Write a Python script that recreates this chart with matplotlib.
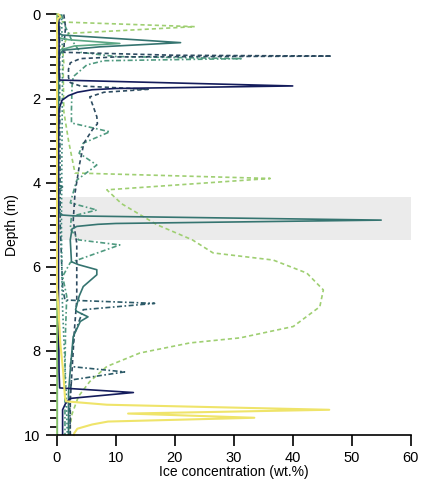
import matplotlib
matplotlib.use("Agg")
import matplotlib.pyplot as plt
from matplotlib.ticker import MultipleLocator

plt.rcParams['font.family'] = ['Liberation Sans', 'DejaVu Sans']

# ---- data (depth in m, ice concentration in wt.%) ----
navy_solid_d = [0, 0.5, 1.0, 1.4, 1.56, 1.70, 1.76, 1.79, 1.85, 1.93, 2.04, 2.25, 3, 5, 7, 8.5, 8.88, 8.99, 9.13, 9.25, 9.4, 10]
navy_solid_v = [0.3, 0.4, 0.4, 0.4, 0.5, 40, 10, 6, 3.5, 2.0, 0.9, 0.4, 0.3, 0.3, 0.3, 0.4, 0.5, 13, 2.3, 1.5, 1.0, 1.0]

teal_solid_d = [0, 0.45, 0.49, 0.67, 0.77, 0.85, 0.93, 1.08, 3, 4.05, 4.1, 4.15, 4.2, 4.7, 4.77, 4.79, 4.89, 4.97, 4.99, 5.04, 5.1, 5.36, 5.88, 5.95, 6.07, 6.19, 6.47, 6.7, 7.02, 7.06, 7.19, 7.3, 7.66, 8.45, 9.0, 10]
teal_solid_v = [0.3, 0.4, 1.0, 21, 7.3, 1.1, 0.6, 0.3, 0.3, 0.3, 1.0, 0.5, 0.3, 0.4, 1.0, 3, 55, 10, 7, 3.4, 2.6, 2.3, 2.5, 3.7, 6.8, 6.8, 4.5, 3.8, 3.2, 3.4, 5.3, 4.0, 2.8, 2.3, 2.0, 2.0]

green_solid_d = [0, 0.55, 0.6, 0.69, 0.75, 0.85, 1.0, 10]
green_solid_v = [0.1, 0.2, 2, 10.7, 3, 0.5, 0.1, 0.1]

lgreen_solid_d = [0, 10]
lgreen_solid_v = [0.05, 0.05]

yellow_solid_d = [0, 0.05, 0.1, 0.2, 6.5, 7.0, 7.8, 8.5, 9.1, 9.2, 9.28, 9.4, 9.49, 9.59, 9.68, 9.75, 9.85, 9.95, 10]
yellow_solid_v = [0.3, 0.6, 0.2, 0.05, 0.05, 0.3, 0.6, 1.1, 1.4, 1.6, 8.5, 46.2, 12.1, 33.5, 8.7, 6, 3.5, 3.0, 2.9]

lgreen_dash_d = [0, 0.18, 0.29, 0.45, 0.8, 1.15, 1.3, 2.3, 3.0, 3.77, 3.9, 4.17, 4.5, 5.0, 5.36, 5.67, 5.84, 6.15, 6.55, 6.95, 7.42, 7.69, 7.81, 8.05, 8.37, 8.73, 9.08, 9.5, 10]
lgreen_dash_v = [0.5, 1.0, 23.4, 2.0, 1.0, 1.2, 1.1, 1.2, 2.0, 3.1, 36.2, 8.5, 11, 17, 23, 26.5, 36.7, 42.4, 45.2, 44.6, 40.1, 31.1, 22.6, 14.1, 8.5, 5.6, 3.7, 2.6, 2.0]

slate_dash_d = [0, 0.3, 0.6, 0.9, 0.97, 0.99, 1.01, 1.05, 1.15, 1.3, 1.5, 1.62, 1.70, 1.78, 1.85, 1.96, 2.19, 2.43, 2.6, 2.75, 3.06, 3.54, 4.25, 4.9, 5.44, 6.79, 7.5, 8.0, 8.69, 9.2, 10]
slate_dash_v = [1.2, 1.5, 1.3, 1.2, 20, 46.6, 10, 4, 2.3, 2.0, 2.0, 2.3, 4, 15.5, 8, 5.6, 6.2, 6.8, 6.9, 6.0, 4.6, 3.9, 3.1, 2.8, 3.4, 3.4, 3.0, 2.8, 2.5, 2.3, 2.3]

green_dashdot_d = [0, 0.3, 0.6, 0.9, 1.0, 1.05, 1.1, 1.2, 1.48, 1.7, 2.27, 2.58, 2.79, 3.06, 3.3, 3.58, 3.94, 4.48, 4.65, 4.8, 5.1, 5.36, 5.48, 5.9, 6.23, 6.7, 7.5, 8.5, 9.5, 10]
green_dashdot_v = [0.8, 1.5, 2.5, 4, 10, 31.5, 8, 5.1, 2.8, 2.6, 2.5, 2.5, 9.0, 4.5, 3.8, 6.8, 3.4, 2.3, 6.8, 2.5, 2.3, 3.7, 10.7, 2.3, 1.0, 1.7, 1.5, 1.4, 1.4, 1.4]

slate_dashdot_d = [0, 2, 5, 6.5, 6.79, 6.87, 7.02, 7.6, 8.37, 8.5, 8.69, 9.2, 10]
slate_dashdot_v = [0.5, 0.5, 0.6, 1.0, 1.4, 16.6, 4.5, 3.0, 2.3, 11.5, 2.5, 2.2, 2.3]

teal_dot_d = [0, 1, 3, 5, 6.5, 7, 8, 9, 10]
teal_dot_v = [0.8, 1.0, 0.9, 0.8, 0.9, 1.0, 1.3, 1.6, 1.8]

band = (4.35, 5.37)

fig = plt.figure(figsize=(4.43, 4.82), dpi=100)
ax = fig.add_axes([0.128, 0.0975, 0.799, 0.8725])

ax.axhspan(band[0], band[1], xmin=0, xmax=1, color='#ebebeb', zorder=0, lw=0)

lw = 1.2
dash = (0, (2.5, 1.8))
dot = (0, (1, 1.5))
dashdot = (0, (3, 1.5, 1, 1.5))

ax.plot(lgreen_dash_v, lgreen_dash_d, color='#9fcf72', lw=lw, ls=dash)
ax.plot(green_dashdot_v, green_dashdot_d, color='#4f9a80', lw=lw, ls=dashdot)
ax.plot(slate_dashdot_v, slate_dashdot_d, color='#2c5a68', lw=lw, ls=dashdot)
ax.plot(slate_dash_v, slate_dash_d, color='#2d4b60', lw=lw, ls=dash)
ax.plot(teal_dot_v, teal_dot_d, color='#3f8a7c', lw=lw, ls=dot)
ax.plot(green_solid_v, green_solid_d, color='#5aa684', lw=lw)
ax.plot(teal_solid_v, teal_solid_d, color='#357470', lw=lw)
ax.plot(navy_solid_v, navy_solid_d, color='#141c5c', lw=lw)
ax.plot(lgreen_solid_v, lgreen_solid_d, color='#8cc56a', lw=lw, clip_on=False)
ax.plot(yellow_solid_v, yellow_solid_d, color='#efe46a', lw=1.5, clip_on=False)

ax.set_xlim(0, 60)
ax.set_ylim(10, 0)
ax.xaxis.set_major_locator(MultipleLocator(10))
ax.yaxis.set_major_locator(MultipleLocator(2))
ax.yaxis.set_minor_locator(MultipleLocator(0.2))
ax.tick_params(axis='both', which='major', length=8, width=1.2, labelsize=10.5, direction='out', color='black')
ax.tick_params(axis='y', which='minor', length=5, width=1.2, direction='out')
for s in ['top', 'right', 'left']:
    ax.spines[s].set_visible(False)
ax.spines['bottom'].set_linewidth(1.2)
ax.set_xlabel('Ice concentration (wt.%)', fontsize=10, labelpad=0)
ax.set_ylabel('Depth (m)', fontsize=10, labelpad=4)

fig.savefig('out.png', dpi=100)
